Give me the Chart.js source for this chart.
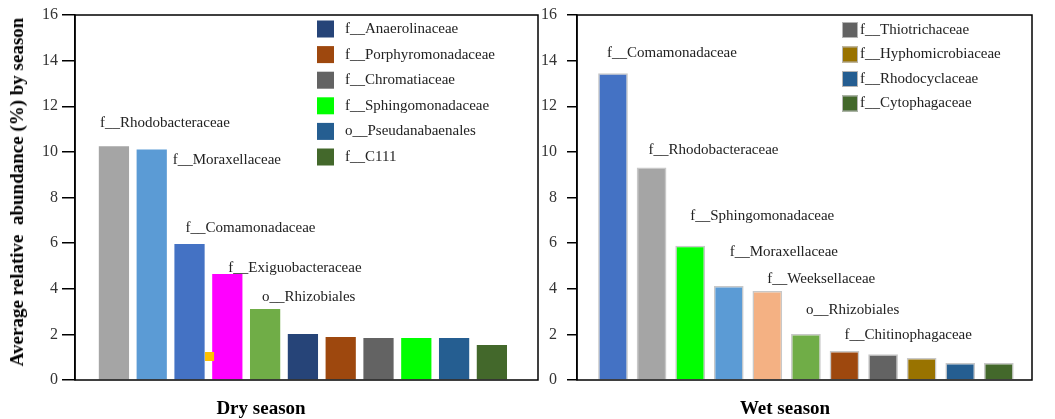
<!DOCTYPE html>
<html>
<head>
<meta charset="utf-8">
<script src="https://cdn.jsdelivr.net/npm/chart.js@4.4.1/dist/chart.umd.min.js"></script>
<style>
  body { margin: 0; background: #fff; width: 1055px; height: 419px; position: relative; overflow: hidden; font-family: "Liberation Serif", "Times New Roman", serif; }
  .panel { position: absolute; top: 0; }
  .axis-title { position: absolute; font-weight: bold; font-size: 19px; color: #000; white-space: nowrap; transform: translate(-50%, -50%); }
</style>
</head>
<body>
<div class="panel" style="left:0"><canvas id="dryChart" width="545" height="419"></canvas></div>
<div class="panel" style="left:540px"><canvas id="wetChart" width="515" height="419"></canvas></div>
<div class="axis-title" style="left:17px;top:192px;transform:translate(-50%,-50%) rotate(-90deg)">Average relative&nbsp; abundance (%) by season</div>
<div class="axis-title" style="left:261px;top:408px">Dry season</div>
<div class="axis-title" style="left:785px;top:408px">Wet season</div>
<script>
// values (% relative abundance)
const yTicks = [0, 2, 4, 6, 8, 10, 12, 14, 16];

const dryTaxa = ['f__Rhodobacteraceae', 'f__Moraxellaceae', 'f__Comamonadaceae', 'f__Exiguobacteraceae',
  'o__Rhizobiales', 'f__Anaerolinaceae', 'f__Porphyromonadaceae', 'f__Chromatiaceae',
  'f__Sphingomonadaceae', 'o__Pseudanabaenales', 'f__C111'];
const dryValues = [10.25, 10.1, 5.96, 4.65, 3.11, 2.02, 1.89, 1.84, 1.84, 1.84, 1.53];
const dryColors = ['#A5A5A5', '#5B9BD5', '#4472C4', '#FF00FF', '#70AD47', '#264478',
  '#9E480E', '#636363', '#00FF00', '#255E91', '#43682B'];
// stray orange marker next to the Comamonadaceae bar
const dryMarker = [{ x: 3.53, y: 1.03 }];

const wetTaxa = ['f__Comamonadaceae', 'f__Rhodobacteraceae', 'f__Sphingomonadaceae', 'f__Moraxellaceae',
  'f__Weeksellaceae', 'o__Rhizobiales', 'f__Chitinophagaceae', 'f__Thiotrichaceae',
  'f__Hyphomicrobiaceae', 'f__Rhodocyclaceae', 'f__Cytophagaceae'];
const wetValues = [13.45, 9.31, 5.88, 4.12, 3.9, 2.02, 1.27, 1.13, 0.96, 0.75, 0.75];
const wetColors = ['#4472C4', '#A5A5A5', '#00FF00', '#5B9BD5', '#F4B183', '#70AD47',
  '#9E480E', '#636363', '#997300', '#255E91', '#43682B'];

// label placement (px offset from bar centre / bar top), legend = remaining bars
const dryLabelOffsets = [[-14, -23], [21, 10], [-4, -16], [1, -6], [-3, -12]];
const wetLabelOffsets = [[-6, -20], [-3, -18], [0, -30], [1, -34], [0, -12], [0, -24], [0, -16]];

const serif = '"Liberation Serif", "Times New Roman", serif';

const framePlugin = {
  id: 'frame',
  afterDraw(chart) {
    const { ctx, chartArea: a } = chart;
    ctx.save();
    ctx.strokeStyle = '#000';
    ctx.lineWidth = 1.5;
    ctx.strokeRect(a.left, a.top, a.right - a.left, a.bottom - a.top);
    ctx.restore();
  }
};

const barLabelPlugin = {
  id: 'barLabels',
  afterDatasetsDraw(chart, args, opts) {
    const { ctx, scales: { x, y } } = chart;
    ctx.save();
    ctx.font = '15px ' + serif;
    ctx.fillStyle = '#222';
    ctx.textAlign = 'left';
    ctx.textBaseline = 'middle';
    opts.offsets.forEach((off, i) => {
      const px = x.getPixelForValue(i + 1) + off[0];
      const py = y.getPixelForValue(opts.values[i]) + off[1];
      ctx.fillText(opts.names[i], px, py);
    });
    ctx.restore();
  }
};

const boxLegendPlugin = {
  id: 'boxLegend',
  afterDraw(chart, args, opts) {
    const { ctx } = chart;
    ctx.save();
    ctx.font = '15px ' + serif;
    ctx.textBaseline = 'middle';
    opts.items.forEach((idx, k) => {
      const cy = opts.top + k * opts.step;
      ctx.fillStyle = opts.colors[idx];
      ctx.fillRect(opts.left, cy - opts.size / 2, opts.size, opts.size);
      if (opts.border) {
        ctx.strokeStyle = opts.border;
        ctx.lineWidth = 1;
        ctx.strokeRect(opts.left + 0.5, cy - opts.size / 2 + 0.5, opts.size - 1, opts.size - 1);
      }
      ctx.fillStyle = '#222';
      ctx.fillText(opts.names[idx], opts.textX, cy);
    });
    ctx.restore();
  }
};

function makePanel(id, names, values, colors, cfg) {
  const datasets = [{
    type: 'bar',
    data: values.map((v, i) => ({ x: i + 1, y: v })),
    backgroundColor: colors,
    borderColor: cfg.barBorder || colors,
    borderWidth: cfg.barBorder ? 1.5 : 0,
    borderSkipped: 'bottom',
    barPercentage: cfg.barPct,
    categoryPercentage: 1,
    order: 2
  }];
  if (cfg.marker) {
    datasets.push({
      type: 'scatter',
      data: cfg.marker,
      pointStyle: 'rect',
      pointRadius: 6.4,
      backgroundColor: '#FFC000',
      borderWidth: 0,
      order: 1
    });
  }

  return new Chart(document.getElementById(id), {
    data: { datasets },
    options: {
      responsive: false,
      animation: false,
      events: [],
      layout: { padding: cfg.padding, autoPadding: false },
      plugins: {
        legend: { display: false },
        tooltip: { enabled: false },
        barLabels: { names, values, offsets: cfg.labelOffsets },
        boxLegend: cfg.legend
      },
      scales: {
        x: {
          type: 'linear',
          offset: false,
          min: cfg.xMin,
          max: cfg.xMax,
          ticks: { display: false },
          grid: { display: false, drawTicks: false },
          border: { display: false },
          afterFit(s) { s.height = 0; }
        },
        y: {
          min: 0,
          max: 16,
          afterBuildTicks(s) { s.ticks = yTicks.map(v => ({ value: v })); },
          ticks: { color: '#333', padding: cfg.tickPad, font: { family: serif, size: 16 } },
          grid: { drawOnChartArea: false, drawTicks: true, tickLength: cfg.tickLen, color: '#000', lineWidth: 1.5 },
          border: { display: true, color: '#000', width: 1.5 },
          afterFit(s) {
            s.width = cfg.axisWidth;
            s.paddingTop = 0;
            s.paddingBottom = 0;
          }
        }
      }
    },
    plugins: [framePlugin, barLabelPlugin, boxLegendPlugin]
  });
}

makePanel('dryChart', dryTaxa, dryValues, dryColors, {
  padding: { left: 0, right: 7, top: 15, bottom: 39 },
  axisWidth: 75,
  tickLen: 13,
  tickPad: 4,
  xMin: -0.03,
  xMax: 12.22,
  barPct: 0.8,
  marker: dryMarker,
  labelOffsets: dryLabelOffsets,
  legend: { items: [5, 6, 7, 8, 9, 10], names: dryTaxa, colors: dryColors, left: 317, size: 17, top: 29, step: 25.6, textX: 345 }
});

makePanel('wetChart', wetTaxa, wetValues, wetColors, {
  padding: { left: 0, right: 23, top: 15, bottom: 39 },
  axisWidth: 37,
  tickLen: 10,
  tickPad: 10,
  xMin: 0.067,
  xMax: 11.86,
  barPct: 0.77,
  barBorder: '#c8c8c8',
  labelOffsets: wetLabelOffsets,
  legend: { items: [7, 8, 9, 10], names: wetTaxa, colors: wetColors, left: 302, size: 16, top: 30, step: 24.5, textX: 320, border: '#b5b5b5' }
});
</script>
</body>
</html>
